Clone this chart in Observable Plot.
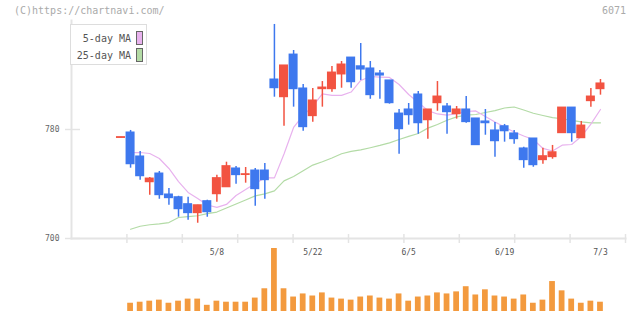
<!DOCTYPE html>
<html><head><meta charset="utf-8">
<script src="https://cdn.jsdelivr.net/npm/d3@7"></script>
<script src="https://cdn.jsdelivr.net/npm/@observablehq/plot@0.6"></script>
<style>
body{margin:0;background:#fff;}
#wrap{position:relative;width:640px;height:311px;overflow:hidden;font-family:"DejaVu Sans Mono",monospace;}
#wrap svg{position:absolute;left:0;overflow:visible;}
.t{position:absolute;font-size:10px;white-space:nowrap;}
</style></head>
<body><div id="wrap"></div>
<script>
// ---- data ----
const openP  = [773.8,777.8,760.2,741.3,747.7,732.3,730.3,725.2,718.6,727.4,732.5,737.6,751.4,746.6,749.9,749.9,816.7,803.7,835.0,810.1,789.8,809.6,809.6,820.4,832.8,826.4,824.8,821.1,816.0,791.7,794.7,805.7,786.8,799.3,796.9,791.2,794.7,788.1,785.9,779.3,782.4,777.1,766.1,773.4,757.5,759.7,777.3,796.1,773.6,800.8,809.6];
const highP  = [774.4,779.3,763.9,744.8,749.2,736.7,731.0,730.3,724.4,728.1,746.5,756.0,752.8,752.1,751.4,755.0,857.1,827.0,838.0,813.0,810.1,815.2,826.2,829.9,832.8,843.1,829.9,823.3,816.0,794.7,799.1,807.9,794.7,815.2,799.1,796.9,804.2,788.1,794.7,785.1,783.7,779.3,767.0,773.4,766.3,768.3,796.1,796.1,785.9,810.1,816.7];
const lowP   = [773.8,751.6,742.8,731.8,728.8,724.4,715.6,713.4,711.2,715.6,726.6,737.6,739.9,740.6,723.7,728.8,803.7,782.4,796.4,778.7,785.4,796.4,807.4,810.3,810.3,816.0,802.2,802.2,798.6,761.9,783.2,776.5,772.9,793.4,776.5,787.6,784.6,768.5,775.8,759.7,770.7,769.2,751.6,752.3,754.5,758.2,777.3,770.7,773.6,796.4,805.2];
const closeP = [774.4,754.5,745.7,744.0,731.8,729.6,721.5,718.6,724.4,719.3,744.3,753.1,746.5,747.2,736.2,742.8,810.3,827.0,809.6,781.7,801.3,810.8,821.8,827.7,814.7,824.0,805.2,819.6,799.3,780.2,790.5,784.6,794.7,804.2,792.7,794.7,785.4,768.5,784.6,771.4,778.7,772.9,757.5,753.8,760.4,763.3,796.1,777.3,782.9,804.2,813.8];
const volume = [null,24,27,30,33,24,30,36,36,18,30,27,27,27,39,66,183,66,42,51,45,54,39,36,33,42,45,39,36,51,30,42,45,54,51,57,72,48,63,45,42,36,48,24,33,87,60,36,24,30,27];
const ma5    = [null,763.1,763.1,762.4,758.7,751.4,741.8,733.8,729.4,724.6,722.8,725.0,731.6,736.0,740.4,744.5,744.5,762.0,781.5,790.3,797.2,806.1,805.0,805.0,807.5,816.0,818.9,818.5,818.2,813.0,805.7,799.8,793.9,791.4,790.6,791.7,793.2,793.6,789.5,785.5,781.8,778.2,775.2,772.7,766.1,764.2,768.5,769.0,774.8,784.0,794.7];
const ma25   = [null,706.8,709.0,710.1,710.8,711.7,715.4,716.1,716.7,718.3,719.4,722.4,725.3,728.3,731.3,732.8,734.9,742.3,745.5,749.7,753.9,756.3,759.1,762.2,764.0,765.0,766.6,768.3,770.2,772.7,775.0,777.1,781.0,783.7,786.8,789.3,790.5,791.0,792.5,793.9,795.8,796.5,794.3,791.9,790.3,788.7,787.9,786.7,785.6,784.9,784.9];
const dateLabels = ["5/8","5/22","6/5","6/19","7/3"];
const dateIndex  = [10,20,30,40,50];
const yTicks = [700,780];
const maNames = ["5-day MA","25-day MA"];

// ---- styles ----
const RED="#f25341", BLUE="#3e78ee", ORANGE="#f39a3e", PINK="#e8b2ee", GREEN="#b3dba6", GRID="#e4e4e4";
const xDomain=[-5.16,52.61];
const frameTicks=d3.range(11).map(k=>xDomain[0]+k*(xDomain[1]-xDomain[0])/10);

const candles = openP.map((o,i)=>({i,o,h:highP[i],l:lowP[i],c:closeP[i],up:closeP[i]>=o}));
const maRows = ma5.map((v,i)=>({i,ma5:v,ma25:ma25[i]})).filter(d=>d.ma5!=null);
const volRows = volume.map((v,i)=>({i,v})).filter(d=>d.v!=null);

const price = Plot.plot({
  width:640,height:260,marginLeft:71,marginRight:15,marginTop:20,marginBottom:22,
  style:{fontFamily:"DejaVu Sans Mono, monospace",background:"transparent"},
  x:{domain:xDomain,axis:null,label:null},
  y:{domain:[700,860],axis:null,label:null},
  marks:[
    Plot.frame({anchor:"left",stroke:GRID,strokeWidth:2}),
    Plot.frame({anchor:"bottom",stroke:GRID,strokeWidth:2}),
    Plot.axisX({ticks:frameTicks.slice(1),tickSize:9,dy:-4,tickFormat:()=>"",label:null,stroke:GRID,strokeWidth:1.5}),
    Plot.axisX({ticks:dateIndex,tickSize:0,tickPadding:11,label:null,tickFormat:d=>dateLabels[dateIndex.indexOf(d)],fontSize:8,fill:"#555"}),
    Plot.axisY({ticks:yTicks,tickSize:15,dx:9,tickFormat:()=>"",label:null,stroke:GRID,strokeWidth:1.5}),
    Plot.axisY({ticks:yTicks,tickSize:0,tickPadding:12,label:null,fontSize:8,fill:"#666"}),
    Plot.line(maRows,{x:"i",y:"ma25",stroke:GREEN,strokeWidth:1.2}),
    Plot.line(maRows,{x:"i",y:"ma5",stroke:PINK,strokeWidth:1.2}),
    Plot.ruleX(candles,{x:"i",y1:"l",y2:"h",stroke:d=>d.up?RED:BLUE,strokeWidth:1.5}),
    Plot.rect(candles,{x1:d=>d.i-0.47,x2:d=>d.i+0.47,y1:"o",y2:"c",fill:d=>d.up?RED:BLUE,insetTop:-0.5,insetBottom:-0.5})
  ]
});
price.style.top="0px";

const vol = Plot.plot({
  width:640,height:71,marginLeft:71,marginRight:15,marginTop:8,marginBottom:0,
  style:{background:"transparent"},
  x:{domain:xDomain,axis:null,label:null},
  y:{domain:[0,183],axis:null,label:null},
  marks:[
    Plot.rectY(volRows,{x1:d=>d.i-0.3,x2:d=>d.i+0.3,y:"v",fill:ORANGE})
  ]
});
vol.style.top="240px";

const wrap=document.getElementById("wrap");
wrap.appendChild(vol);
wrap.appendChild(price);

function addText(txt,css){const s=document.createElement("div");s.className="t";s.textContent=txt;Object.assign(s.style,css);wrap.appendChild(s);return s;}
addText("(C)https://chartnavi.com/",{left:"14px",top:"5px",color:"#aaa"});
addText("6071",{right:"14px",top:"5px",color:"#aaa"});

// legend
const box=document.createElement("div");
Object.assign(box.style,{position:"absolute",left:"70px",top:"24px",width:"77px",height:"41px",border:"1px solid #ddd",background:"#fff",boxSizing:"border-box"});
wrap.appendChild(box);
[[maNames[0],PINK,31],[maNames[1],GREEN,48]].forEach(([n,c,top])=>{
  addText(n,{right:(640-131)+"px",top:(top+2)+"px",color:"#555"});
  const sw=document.createElement("div");
  Object.assign(sw.style,{position:"absolute",left:"136px",top:top+"px",width:"7px",height:"14px",background:c,border:"1px solid #666",boxSizing:"border-box"});
  wrap.appendChild(sw);
});
</script></body></html>
